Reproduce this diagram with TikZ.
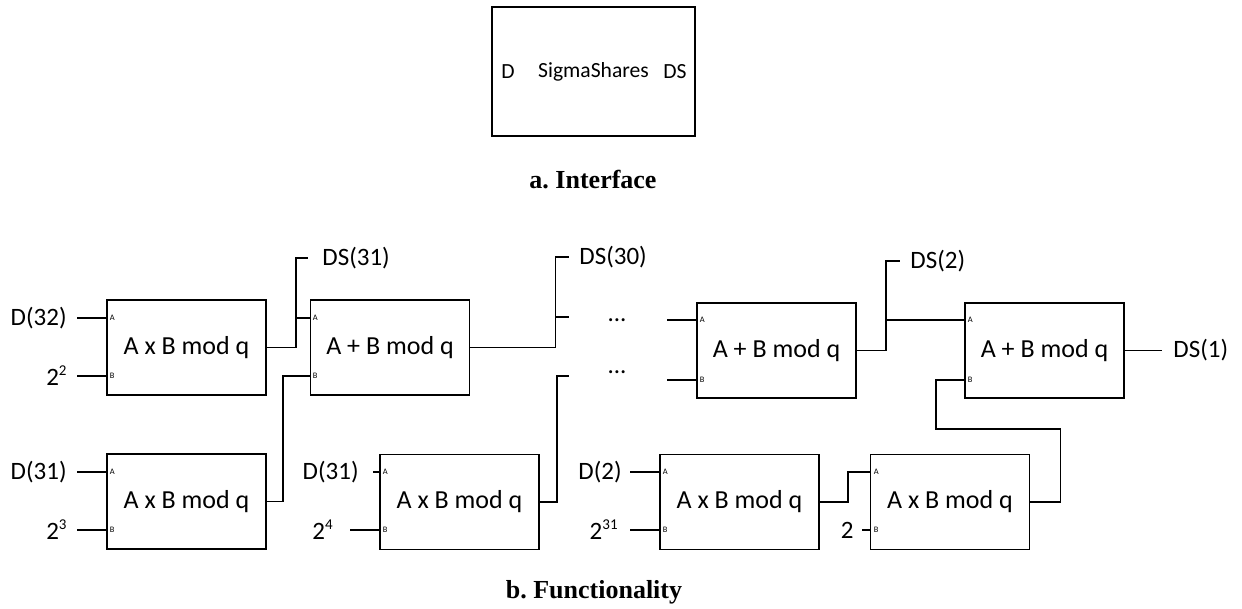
\documentclass[tikz,border=0pt]{standalone}
\usepackage{fontspec}
\setmainfont{Carlito}
\newfontfamily\capfont{Liberation Serif}
\usetikzlibrary{positioning, calc}
\frenchspacing

\newcommand{\powtwo}[1]{2\raisebox{5pt}{\fontsize{7.5}{8}\selectfont #1}}

\tikzset{
  opbox/.style={draw, line width=0.8pt, minimum width=79.5pt, minimum height=47.5pt,
                inner sep=0pt, font=\fontsize{13}{15}\selectfont},
  pinlbl/.style={anchor=west, inner xsep=1.2pt, inner ysep=0pt, font=\fontsize{4.2}{5}\selectfont},
  inlbl/.style={anchor=east, inner xsep=5pt, inner ysep=1pt, font=\fontsize{12.5}{14}\selectfont},
  outlbl/.style={anchor=west, inner xsep=5pt, inner ysep=1pt, font=\fontsize{12.5}{14}\selectfont},
  wire/.style={line width=0.8pt},
  caption/.style={font=\capfont\bfseries\fontsize{13}{15}\selectfont},
}

\begin{document}
\begin{tikzpicture}[x=0.5pt, y=-0.5pt]
  \useasboundingbox (0,0) rectangle (1242,609);

  % a. interface
  \node[opbox, minimum width=101.5pt, minimum height=64.5pt, font=\fontsize{10.8}{13}\selectfont]
    (iface) at (593.5,71.5) {SigmaShares};
  \node[font=\fontsize{10.8}{13}\selectfont] (ifD) at (508,72) {D};
  \node[font=\fontsize{10.8}{13}\selectfont] (ifDS) at (675,72) {DS};
  \node[caption] (capA) at (593,180) {a. Interface};

  % b. functionality -- top row
  \node[opbox] (m1) at (186.5,347.5) {A x B mod q};
  \node[opbox] (a1) at (390,347.5) {A + B mod q};
  \node[opbox] (a2) at (776.5,350.5) {A + B mod q};
  \node[opbox] (a3) at (1044.5,350.5) {A + B mod q};

  % bottom row
  \node[opbox] (m2) at (186.5,501.5) {A x B mod q};
  \node[opbox] (m3) at (459.5,502) {A x B mod q};
  \node[opbox] (m4) at (739.5,502) {A x B mod q};
  \node[opbox] (m5) at (950,502) {A x B mod q};

  % input pins
  \foreach \b/\x/\ya/\yb in {m1/107/318/376, a1/310/318/376, a2/697/320/380, a3/965/320/380,
                             m2/107/472/530, m3/380/472/530, m4/660/472/530, m5/871/472/530} {
    \node[pinlbl] (\b A) at (\x,\ya) {A};
    \node[pinlbl] (\b B) at (\x,\yb) {B};
  }

  % inputs
  \node[inlbl] (d32) at (77,318) {D(32)};
  \node[inlbl] (p22) at (77,376) {\powtwo{2}};
  \node[inlbl] (d31a) at (77,472) {D(31)};
  \node[inlbl] (p23) at (77,530) {\powtwo{3}};
  \node[inlbl, inner xsep=7pt] (d31b) at (373,472) {D(31)};
  \node[inlbl, inner xsep=8.5pt] (p24) at (350,530) {\powtwo{4}};
  \node[inlbl, inner xsep=4pt] (d2) at (630,472) {D(2)};
  \node[inlbl, inner xsep=6pt] (p231) at (630,530) {\powtwo{31}};
  \node[inlbl, inner xsep=4pt] (two) at (862,530) {2};

  \draw[wire] (d32) -- (m1A.west);
  \draw[wire] (p22) -- (m1B.west);
  \draw[wire] (d31a) -- (m2A.west);
  \draw[wire] (p23) -- (m2B.west);
  \draw[wire] (d31b) -- (m3A.west);
  \draw[wire] (p24) -- (m3B.west);
  \draw[wire] (d2) -- (m4A.west);
  \draw[wire] (p231) -- (m4B.west);
  \draw[wire] (two) -- (m5B.west);

  % outputs
  \node[outlbl, inner xsep=7pt] (ds31) at (308,258) {DS(31)};
  \node[outlbl] (ds30) at (569,257) {DS(30)};
  \node[outlbl, inner xsep=5pt] (ds2) at (900,261) {DS(2)};
  \node[outlbl, inner xsep=5.5pt] (ds1) at (1162,350.5) {DS(1)};

  % skipped stages
  \node[font=\fontsize{12.5}{14}\selectfont] (dotsA) at (617,320) {...};
  \node[font=\fontsize{12.5}{14}\selectfont] (dotsB) at (617,372) {...};
  \coordinate (s1) at (569,317);
  \coordinate (s2) at (569,376);
  \coordinate (s3) at (667,320);
  \coordinate (s4) at (667,380);

  % wiring
  \path (m1.east) ++(29,0) coordinate (j1);
  \draw[wire] (m1.east) -- (j1) |- (ds31.west);
  \draw[wire] (j1 |- a1A.west) -- (a1A.west);

  \path (m2.east) ++(16,0) coordinate (j2);
  \draw[wire] (m2.east) -- (j2) |- (a1B.west);

  \path (a1.east) ++(85,0) coordinate (j3);
  \draw[wire] (a1.east) -- (j3) |- (ds30.west);
  \draw[wire] (j3 |- s1) -- (s1);

  \path (m3.east) ++(17,0) coordinate (j4);
  \draw[wire] (m3.east) -- (j4) |- (s2);

  \draw[wire] (s3) -- (a2A.west);
  \draw[wire] (s4) -- (a2B.west);

  \path (a2.east) ++(29,0) coordinate (j5);
  \draw[wire] (a2.east) -- (j5) |- (ds2.west);
  \draw[wire] (j5 |- a3A.west) -- (a3A.west);

  \draw[wire] (a3.east) -- (ds1.west);

  \draw[wire] (m4.east) -- ++(28,0) |- (m5A.west);

  \coordinate (j7) at (936,429);
  \draw[wire] (m5.east) -- ++(30,0) |- (j7) |- (a3B.west);

  \node[caption] (capB) at (594,592) {b. Functionality};
\end{tikzpicture}
\end{document}
